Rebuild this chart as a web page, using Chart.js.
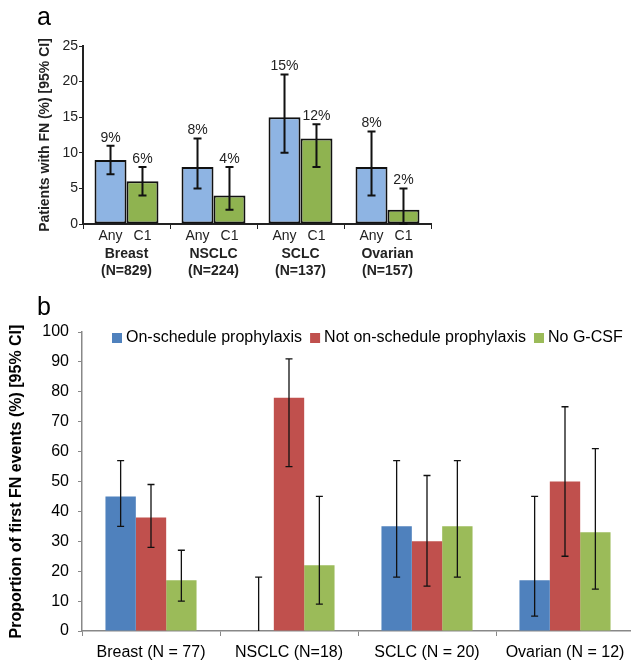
<!DOCTYPE html>
<html lang="en">
<head>
<meta charset="UTF-8">
<title>Febrile neutropenia by tumour type</title>
<script src="https://cdn.jsdelivr.net/npm/chart.js"></script>
<style>
  html, body { margin: 0; padding: 0; background: #fff; overflow: hidden; }
  body { width: 631px; height: 661px; position: relative; }
  canvas { position: absolute; left: 0; }
  #chartA { top: 0; }
  #chartB { top: 280px; }
  .panel { position: absolute; font-family: "Liberation Sans", Arial, sans-serif; font-size: 25px; line-height: 25px; color: #000; }
</style>
</head>
<body>
<canvas id="chartA" width="440" height="280"></canvas>
<canvas id="chartB" width="640" height="381"></canvas>
<div class="panel" style="left:37px; top:4px">a</div>
<div class="panel" style="left:37px; top:294px">b</div>
<script>
// ---- panel a: patients with FN, any cycle vs cycle 1
const tumoursA = [['Breast', '(N=829)'], ['NSCLC', '(N=224)'], ['SCLC', '(N=137)'], ['Ovarian', '(N=157)']];
const anyFN = [9, 8, 15, 8];
const anyLow = [7, 5, 10, 4];
const anyHigh = [11, 12, 21, 13];
const c1FN = [6, 4, 12, 2];
const c1Low = [4, 2, 8, 0];
const c1High = [8, 8, 14, 5];
const ticksA = [0, 5, 10, 15, 20, 25];

// ---- panel b: proportion of first FN events
const tumoursB = ['Breast (N = 77)', 'NSCLC (N=18)', 'SCLC (N = 20)', 'Ovarian (N = 12)'];
const onSchedule = [45, 0, 35, 17];
const onLow = [35, 0, 18, 5];
const onHigh = [57, 18, 57, 45];
const notOnSchedule = [38, 78, 30, 50];
const notLow = [28, 55, 15, 25];
const notHigh = [49, 91, 52, 75];
const noGcsf = [17, 22, 35, 33];
const noLow = [10, 9, 18, 14];
const noHigh = [27, 45, 57, 61];
const ticksB = [0, 10, 20, 30, 40, 50, 60, 70, 80, 90, 100];

Chart.defaults.font.family = '"Liberation Sans", Arial, sans-serif';
Chart.defaults.animation = false;

// whiskers from errLow / errHigh on each dataset
const errorBars = {
  id: 'errorBars',
  afterDatasetsDraw(chart, args, opts) {
    const ctx = chart.ctx;
    const ys = chart.scales.y;
    ctx.save();
    ctx.strokeStyle = opts.color || '#000';
    ctx.lineWidth = opts.width || 1;
    chart.data.datasets.forEach((ds, i) => {
      chart.getDatasetMeta(i).data.forEach((bar, j) => {
        const top = ys.getPixelForValue(ds.errHigh[j]);
        const bot = ys.getPixelForValue(ds.errLow[j]);
        const cap = opts.cap || 4;
        ctx.beginPath();
        ctx.moveTo(bar.x, top);
        ctx.lineTo(bar.x, bot);
        ctx.moveTo(bar.x - cap, top);
        ctx.lineTo(bar.x + cap, top);
        if (ds.errLow[j] !== ds.data[j] || ds.errLow[j] > 0) {
          ctx.moveTo(bar.x - cap, bot);
          ctx.lineTo(bar.x + cap, bot);
        }
        ctx.stroke();
        if (opts.labels) {
          ctx.fillStyle = '#222';
          ctx.font = '14px "Liberation Sans", Arial, sans-serif';
          ctx.textAlign = 'center';
          ctx.textBaseline = 'middle';
          ctx.fillText(ds.data[j] + '%', bar.x, top - 8);
          ctx.fillText(ds.label, bar.x, chart.chartArea.bottom + 12);
        }
      });
    });
    ctx.restore();
  }
};

// compact legend inside the plot area (panel b)
const insideLegend = {
  id: 'insideLegend',
  afterDraw(chart) {
    const ctx = chart.ctx;
    let x = chart.chartArea.left + 30;
    const y = chart.chartArea.top + 6;
    ctx.save();
    ctx.font = '16px "Liberation Sans", Arial, sans-serif';
    ctx.textBaseline = 'middle';
    ctx.textAlign = 'left';
    chart.data.datasets.forEach(ds => {
      ctx.fillStyle = ds.backgroundColor;
      ctx.fillRect(x, y - 5, 10, 10);
      x += 14;
      ctx.fillStyle = '#000';
      ctx.fillText(ds.label, x, y);
      x += ctx.measureText(ds.label).width + 8;
    });
    ctx.restore();
  }
};

new Chart(document.getElementById('chartA'), {
  type: 'bar',
  data: {
    labels: tumoursA,
    datasets: [
      { label: 'Any', data: anyFN, errLow: anyLow, errHigh: anyHigh,
        backgroundColor: '#8eb4e3', borderColor: '#111', borderWidth: 2, borderSkipped: false },
      { label: 'C1', data: c1FN, errLow: c1Low, errHigh: c1High,
        backgroundColor: '#8fb350', borderColor: '#111', borderWidth: 2, borderSkipped: false }
    ]
  },
  options: {
    responsive: false,
    layout: { padding: { top: 46, right: 9, left: 0, bottom: 0 } },
    datasets: { bar: { barPercentage: 1, categoryPercentage: 0.735 } },
    plugins: {
      legend: { display: false },
      tooltip: { enabled: false },
      errorBars: { color: '#111', width: 2, cap: 4, labels: true }
    },
    scales: {
      x: {
        grid: { drawOnChartArea: false, tickLength: 5, color: '#222' },
        border: { color: '#222', width: 2 },
        ticks: { font: { size: 14, weight: 'bold' }, color: '#222', padding: 17 },
        afterFit: s => { s.height = 56; }
      },
      y: {
        min: 0, max: 25,
        afterBuildTicks: s => { s.ticks = ticksA.map(v => ({ value: v })); },
        ticks: { font: { size: 14 }, color: '#222', padding: 1 },
        grid: { drawOnChartArea: false, tickLength: 4, color: '#222' },
        border: { color: '#222', width: 2 },
        title: { display: true, text: 'Patients with FN (%) [95% CI]', color: '#222',
                 font: { size: 14, weight: 'bold' }, padding: { top: 37, bottom: 0 } },
        afterFit: s => { s.width = 83; }
      }
    }
  },
  plugins: [errorBars]
});

new Chart(document.getElementById('chartB'), {
  type: 'bar',
  data: {
    labels: tumoursB,
    datasets: [
      { label: 'On-schedule prophylaxis', data: onSchedule, errLow: onLow, errHigh: onHigh, backgroundColor: '#4f81bd' },
      { label: 'Not on-schedule prophylaxis', data: notOnSchedule, errLow: notLow, errHigh: notHigh, backgroundColor: '#c0504d' },
      { label: 'No G-CSF', data: noGcsf, errLow: noLow, errHigh: noHigh, backgroundColor: '#9bbb59' }
    ]
  },
  options: {
    responsive: false,
    layout: { padding: { top: 52, right: 6, left: 0, bottom: 0 } },
    datasets: { bar: { barPercentage: 1, categoryPercentage: 0.66 } },
    plugins: {
      legend: { display: false },
      tooltip: { enabled: false },
      errorBars: { color: '#111', width: 1.3, cap: 3.5 }
    },
    scales: {
      x: {
        grid: { drawOnChartArea: false, tickLength: 5, color: '#888' },
        border: { color: '#888', width: 1.5 },
        ticks: { font: { size: 16 }, color: '#000', padding: 7 },
        afterFit: s => { s.height = 30; }
      },
      y: {
        min: 0, max: 100,
        afterBuildTicks: s => { s.ticks = ticksB.map(v => ({ value: v })); },
        ticks: { font: { size: 16 }, color: '#000', padding: 9 },
        grid: { drawOnChartArea: false, tickLength: 4, color: '#888' },
        border: { color: '#888', width: 1.5 },
        title: { display: true, text: 'Proportion of first FN events (%) [95% CI]', color: '#000',
                 font: { size: 16, weight: 'bold' }, padding: { top: 7, bottom: 0 } },
        afterFit: s => { s.width = 82; }
      }
    }
  },
  plugins: [errorBars, insideLegend]
});
</script>
</body>
</html>
